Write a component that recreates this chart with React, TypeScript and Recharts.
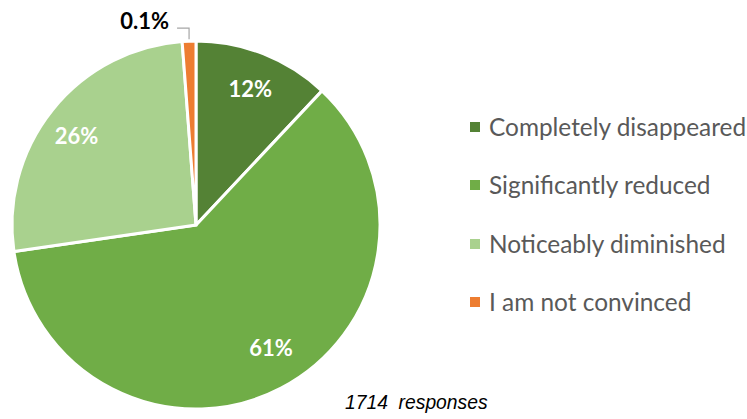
import React from "react";
import { PieChart, Pie, Cell } from "recharts";

const categories = [
  "Completely disappeared",
  "Significantly reduced",
  "Noticeably diminished",
  "I am not convinced",
];
const values = [12, 60.7, 26.1, 1.2];
const valueLabels = ["12%", "61%", "26%", "0.1%"];
const colors = ["#548235", "#70AD47", "#A9D18E", "#ED7D31"];
const footnote = "1714\u00a0\u00a0responses";

const data = categories.map((name, i) => ({ name, value: values[i], label: valueLabels[i] }));

const FONT = "Lato, 'Open Sans', sans-serif";
const RAD = Math.PI / 180;
const labelRatio = [0.8, 0.78, 0.81, 1];
const labelAngleShift = [0, 4, 2, 0];

const renderLabel = (props: any) => {
  const { cx, cy, midAngle, outerRadius, index } = props;
  if (index === 3) {
    const x0 = cx + outerRadius * Math.cos(-midAngle * RAD);
    const y0 = cy + outerRadius * Math.sin(-midAngle * RAD);
    return (
      <g>
        <polyline
          points={`${x0},${y0 - 2} ${x0},${y0 - 13} ${x0 - 12},${y0 - 13}`}
          fill="none"
          stroke="#A6A6A6"
          strokeWidth={1.2}
        />
        <text x={x0 - 20} y={y0 - 21} textAnchor="end" dominantBaseline="central" fontFamily={FONT} fontWeight="bold" fontSize={22} fill="#000">
          {data[index].label}
        </text>
      </g>
    );
  }
  const a = midAngle + labelAngleShift[index];
  const r = outerRadius * labelRatio[index];
  const x = cx + r * Math.cos(-a * RAD);
  const y = cy + r * Math.sin(-a * RAD);
  return (
    <text x={x} y={y} textAnchor="middle" dominantBaseline="central" fontFamily={FONT} fontWeight="bold" fontSize={22} fill="#fff">
      {data[index].label}
    </text>
  );
};

export default function App() {
  return (
    <div style={{ position: "absolute", left: 0, top: 0, width: 747, height: 419, background: "#fff" }}>
      <PieChart width={747} height={419} margin={{ top: 0, right: 0, bottom: 0, left: 0 }}>
        <Pie
          data={data}
          dataKey="value"
          nameKey="name"
          cx={196}
          cy={225}
          outerRadius={184}
          startAngle={90}
          endAngle={-270}
          stroke="#fff"
          strokeWidth={3}
          label={renderLabel}
          labelLine={false}
          isAnimationActive={false}
        >
          {data.map((d, i) => (
            <Cell key={d.name} fill={colors[i]} />
          ))}
        </Pie>
      </PieChart>
      <div style={{ position: "absolute", left: 470, top: 98, fontFamily: FONT, fontSize: 24.4, color: "#595959" }}>
        {categories.map((c, i) => (
          <div key={c} style={{ display: "flex", alignItems: "center", height: 58.3 }}>
            <div style={{ width: 10, height: 10, background: colors[i], marginRight: 9 }} />
            <span style={{ lineHeight: "30px", whiteSpace: "nowrap" }}>{c}</span>
          </div>
        ))}
      </div>
      <div style={{ position: "absolute", left: 345, top: 392, fontFamily: "'Liberation Sans', Arial, sans-serif", fontStyle: "italic", fontSize: 19.3, color: "#000", whiteSpace: "pre" }}>
        {footnote}
      </div>
    </div>
  );
}
